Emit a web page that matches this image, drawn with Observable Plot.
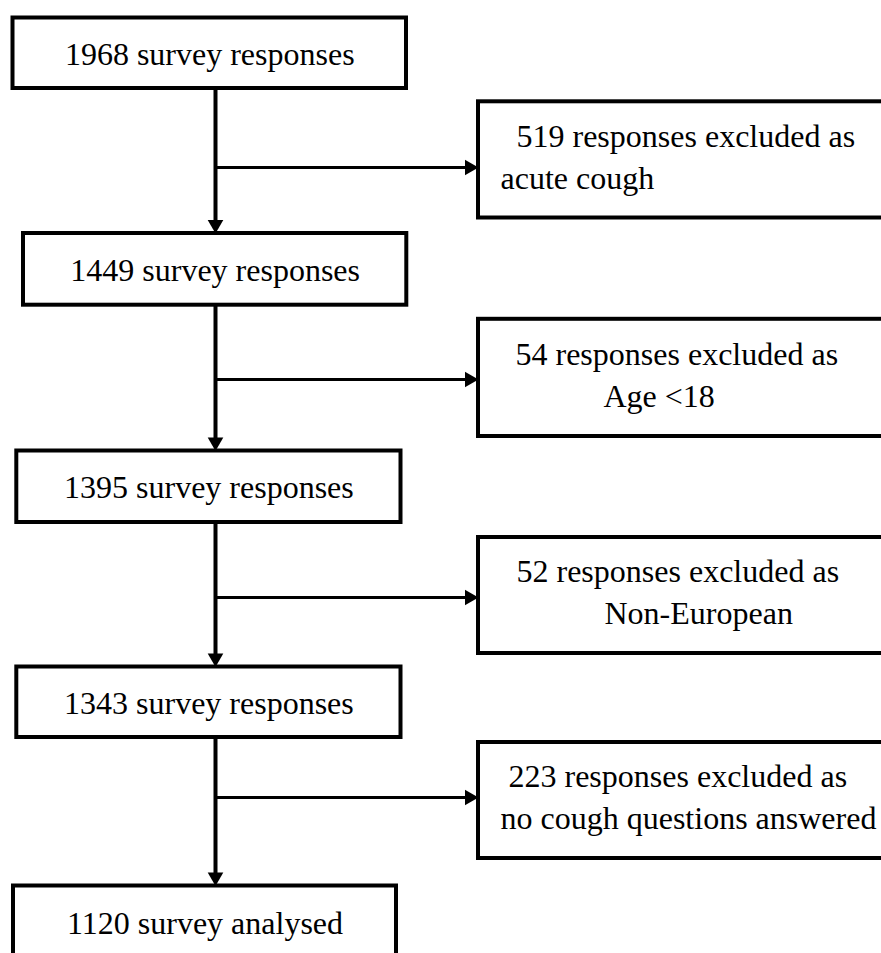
<!DOCTYPE html>
<html>
<head>
<meta charset="utf-8">
<script src="https://cdn.jsdelivr.net/npm/d3@7"></script>
<script src="https://cdn.jsdelivr.net/npm/@observablehq/plot@0.6"></script>
<style>
  html, body { margin: 0; padding: 0; background: white; overflow: hidden; }
  #chart svg { display: block; }
</style>
</head>
<body>
<div id="chart"></div>
<script>
// ---- Data ----
const mainCounts = [1968, 1449, 1395, 1343, 1120];
const mainLabels = ["survey responses", "survey responses", "survey responses", "survey responses", "survey analysed"];
const excludedCounts = [519, 54, 52, 223];
const excludedReasons = ["acute cough", "Age <18", "Non-European", "no cough questions answered"];

// ---- Layout (pixel positions of the flowchart) ----
const mainBoxX1 = [12.5, 23, 16.3, 16.3, 13];
const mainBoxX2 = [406, 406.3, 400.5, 400.5, 396];
const mainBoxY1 = [17.5, 233, 450.5, 666.5, 885.5];
const mainBoxY2 = [88, 304.7, 522, 737, 1010];
const mainTextY = [64, 280, 497, 713, 933];
const exBoxX1 = 478, exBoxX2 = 910;
const exBoxY1 = [101.3, 318.8, 537, 742];
const exBoxY2 = [217.5, 436, 653, 858];
const branchY = [167, 379, 597, 797];
const exLine1X = [516, 515, 516, 508];
const exLine2X = [500, 603, 604, 500];
const exLine1Y = [146.7, 364.3, 581.7, 786.7];
const exLine2Y = [188.3, 406.7, 623.3, 828.3];
const spineX = 215;
const W = 881, H = 953;

const headR = 5.8;
const tipOffset = 2 * headR * Math.sqrt(Math.PI / (3 * Math.sqrt(3)));

const mainIdx = d3.range(mainCounts.length);
const exIdx = d3.range(excludedCounts.length);
const gapIdx = d3.range(mainCounts.length - 1);

const font = "'Liberation Serif', 'Times New Roman', serif";

const chart = Plot.plot({
  width: W,
  height: H,
  margin: 0,
  x: {domain: [0, W], range: [0, W], axis: null},
  y: {domain: [0, H], range: [0, H], axis: null},
  style: {background: "white", fontFamily: font},
  marks: [
    // vertical spine segments
    Plot.link(gapIdx, {
      x1: () => spineX, x2: () => spineX,
      y1: i => mainBoxY2[i], y2: i => mainBoxY1[i + 1] - tipOffset,
      stroke: "black", strokeWidth: 4
    }),
    // horizontal branches
    Plot.link(exIdx, {
      x1: () => spineX, x2: () => exBoxX1 - tipOffset,
      y1: i => branchY[i], y2: i => branchY[i],
      stroke: "black", strokeWidth: 3.2
    }),
    // arrowheads down
    Plot.dot(gapIdx, {
      x: () => spineX, y: i => mainBoxY1[i + 1],
      symbol: "triangle", r: headR, rotate: 180, dy: -tipOffset,
      fill: "black", stroke: null
    }),
    // arrowheads right
    Plot.dot(exIdx, {
      x: () => exBoxX1, y: i => branchY[i],
      symbol: "triangle", r: headR, rotate: 90, dx: -tipOffset,
      fill: "black", stroke: null
    }),
    // main boxes
    Plot.rect(mainIdx, {
      x1: i => mainBoxX1[i], x2: i => mainBoxX2[i],
      y1: i => mainBoxY1[i], y2: i => mainBoxY2[i],
      fill: "white", stroke: "black", strokeWidth: 4
    }),
    // exclusion boxes
    Plot.rect(exIdx, {
      x1: () => exBoxX1, x2: () => exBoxX2,
      y1: i => exBoxY1[i], y2: i => exBoxY2[i],
      fill: "white", stroke: "black", strokeWidth: 4
    }),
    // main texts
    Plot.text(mainIdx, {
      x: i => (mainBoxX1[i] + mainBoxX2[i]) / 2, y: i => mainTextY[i],
      text: i => `${mainCounts[i]} ${mainLabels[i]}`,
      textAnchor: "middle", lineAnchor: "bottom",
      fontSize: 32, fontFamily: font, fill: "black"
    }),
    // exclusion texts line 1
    Plot.text(exIdx, {
      x: i => exLine1X[i], y: i => exLine1Y[i],
      text: i => `${excludedCounts[i]} responses excluded as`,
      textAnchor: "start", lineAnchor: "bottom",
      fontSize: 32, fontFamily: font, fill: "black"
    }),
    // exclusion texts line 2
    Plot.text(exIdx, {
      x: i => exLine2X[i], y: i => exLine2Y[i],
      text: i => excludedReasons[i],
      textAnchor: "start", lineAnchor: "bottom",
      fontSize: 32, fontFamily: font, fill: "black"
    })
  ]
});
document.getElementById("chart").appendChild(chart);
</script>
</body>
</html>
